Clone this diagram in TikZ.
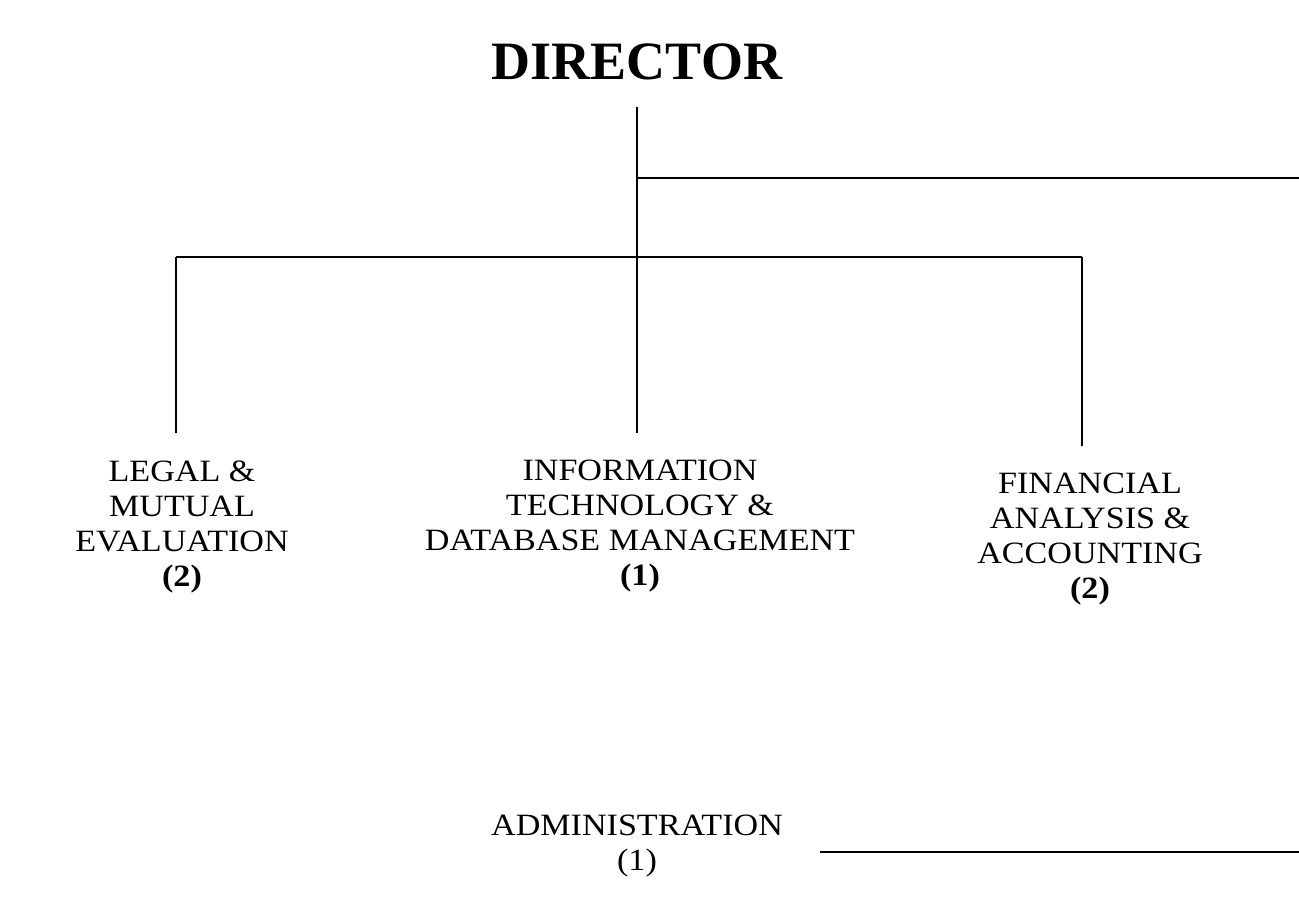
\documentclass[tikz,border=0pt]{standalone}
\usepackage{fontspec}
\setmainfont{Liberation Serif}
\newfontfamily\deptfont{Liberation Serif}[FakeStretch=1.1]
\begin{document}
\begin{tikzpicture}[x=0.5pt,y=-0.5pt,
  dept/.style={font=\deptfont\fontsize{15.5}{17.5}\selectfont, align=center, inner sep=0pt, anchor=north},
  conn/.style={line width=0.9pt, black}]
\useasboundingbox (0,0) rectangle (1299,923);
\node[font=\fontsize{27}{30}\selectfont\bfseries, inner sep=0pt] (dir) at (637,62) {DIRECTOR};
\node[dept] (legal) at (182,460) {LEGAL \&\\MUTUAL\\EVALUATION\\\textbf{(2)}};
\node[dept] (it) at (640,460) {INFORMATION\\TECHNOLOGY \&\\DATABASE MANAGEMENT\\\textbf{(1)}};
\node[dept] (fin) at (1090,473) {FINANCIAL\\ANALYSIS \&\\ACCOUNTING\\\textbf{(2)}};
\node[dept] (admin) at (637,815) {ADMINISTRATION\\(1)};
\coordinate (top) at (637,107);
\coordinate (j1) at (637,178);
\coordinate (redge) at (1299,178);
\coordinate (jm) at (637,257);
\coordinate (jl) at (176,257);
\coordinate (jr) at (1082,257);
\coordinate (el) at (176,433);
\coordinate (em) at (637,433);
\coordinate (er) at (1082,446);
\coordinate (a1) at (820,852);
\coordinate (a2) at (1299,852);
\draw[conn] (top) -- (em);
\draw[conn] (j1) -- (redge);
\draw[conn] (jl) -- (jr);
\draw[conn] (jl) -- (el);
\draw[conn] (jr) -- (er);
\draw[conn] (a1) -- (a2);
\end{tikzpicture}
\end{document}
